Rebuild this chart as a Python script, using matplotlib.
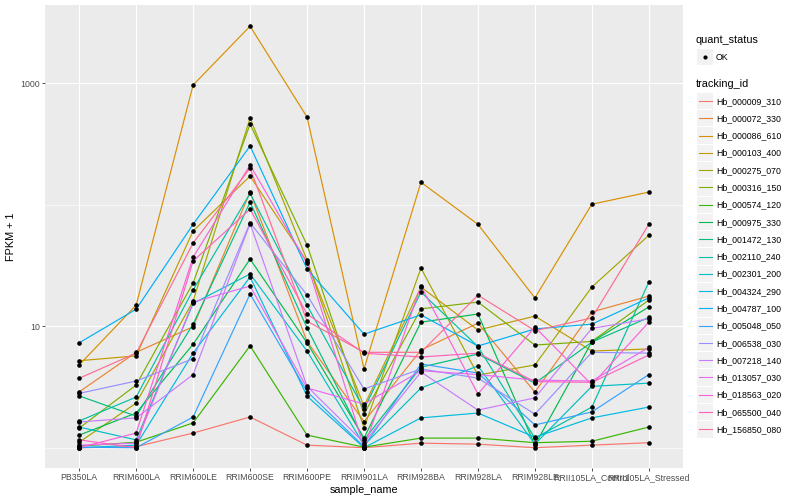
"""
FPKM + 1 per sample for 20 tracking ids (ggplot-like look)
"""

import matplotlib
matplotlib.use('Agg')
import matplotlib.pyplot as plt
from matplotlib.patches import Rectangle
from matplotlib.ticker import FixedLocator, NullFormatter, FixedFormatter

plt.rcParams['font.family'] = ['Liberation Sans', 'DejaVu Sans']

# Data
samples = ['PB350LA', 'RRIM600LA', 'RRIM600LE', 'RRIM600SE', 'RRIM600PE',
           'RRIM901LA', 'RRIM928BA', 'RRIM928LA', 'RRIM928LE',
           'RRII105LA_Control', 'RRII105LA_Stressed']

tracking_ids = ['Hb_000009_310', 'Hb_000072_330', 'Hb_000086_610', 'Hb_000103_400',
                'Hb_000275_070', 'Hb_000316_150', 'Hb_000574_120', 'Hb_000975_330',
                'Hb_001472_130', 'Hb_002110_240', 'Hb_002301_200', 'Hb_004324_290',
                'Hb_004787_100', 'Hb_005048_050', 'Hb_006538_030', 'Hb_007218_140',
                'Hb_013057_030', 'Hb_018563_020', 'Hb_065500_040', 'Hb_156850_080']

hb_000009_310 = [1.0, 1.02, 1.32, 1.79, 1.05, 1.0, 1.09, 1.07, 1.0, 1.05, 1.1]
hb_000072_330 = [2.88, 6.1, 9.9, 127, 7.5, 1.64, 6.37, 10.6, 2.87, 13.1, 17.7]
hb_000086_610 = [4.8, 14.9, 966, 2950, 527, 4.45, 153, 69, 17.1, 101, 127]
hb_000103_400 = [5.2, 5.7, 60.8, 172, 34, 2.2, 21, 9.3, 12.1, 6.25, 6.5]
hb_000275_070 = [1.11, 2.33, 16.1, 517, 35, 1.46, 30.1, 3.96, 4.8, 21, 56]
hb_000316_150 = [1.45, 3.28, 22.7, 461, 46.6, 1.89, 13.9, 15.8, 7.0, 7.5, 16.4]
hb_000574_120 = [1.03, 1.11, 1.6, 6.9, 1.27, 1.01, 1.2, 1.2, 1.1, 1.13, 1.48]
hb_000975_330 = [1.27, 1.93, 7.1, 35.7, 7.3, 1.2, 10.8, 12.6, 1.05, 7.45, 14.4]
hb_001472_130 = [2.67, 1.82, 10.4, 105, 9.7, 1.16, 4.6, 5.9, 3.4, 7.4, 11.8]
hb_002110_240 = [1.66, 2.61, 19.9, 124, 14.9, 2.08, 19.1, 6.8, 1.2, 2.16, 23.1]
hb_002301_200 = [1.48, 1.16, 15.4, 26.9, 6.25, 1.05, 3.1, 4.71, 1.07, 3.2, 3.4]
hb_004324_290 = [1.0, 1.05, 6.0, 25.4, 2.66, 1.0, 1.76, 1.93, 1.22, 1.76, 2.16]
hb_004787_100 = [7.3, 13.8, 69, 304, 29.6, 8.6, 12.4, 6.87, 9.5, 10.4, 17.1]
hb_005048_050 = [1.01, 1.0, 1.79, 18.4, 2.9, 1.02, 4.89, 4.12, 1.54, 1.97, 4.0]
hb_006538_030 = [2.8, 3.54, 5.4, 71, 18.1, 3.04, 4.45, 3.74, 1.89, 6.1, 6.0]
hb_007218_140 = [1.63, 1.76, 4.0, 70, 3.2, 1.1, 4.2, 2.04, 2.57, 9.6, 11.5]
hb_013057_030 = [1.05, 1.09, 15.8, 21.4, 3.1, 2.29, 4.3, 4.0, 3.6, 3.54, 6.7]
hb_018563_020 = [1.0, 1.32, 37, 212, 33, 1.0, 21.4, 2.77, 9.85, 3.3, 10.8]
hb_065500_040 = [1.16, 1.0, 34.4, 92, 12.6, 6.0, 5.58, 6.0, 3.5, 3.45, 5.8]
hb_156850_080 = [3.73, 6.0, 48.4, 200, 11, 6.1, 6.1, 18, 9.2, 11.7, 69]

series = [hb_000009_310, hb_000072_330, hb_000086_610, hb_000103_400,
          hb_000275_070, hb_000316_150, hb_000574_120, hb_000975_330,
          hb_001472_130, hb_002110_240, hb_002301_200, hb_004324_290,
          hb_004787_100, hb_005048_050, hb_006538_030, hb_007218_140,
          hb_013057_030, hb_018563_020, hb_065500_040, hb_156850_080]

# ggplot2 hue palette, 20 levels
colors = ['#F8766D', '#EA8331', '#D89000', '#C09B00', '#A3A500', '#7CAE00',
          '#39B600', '#00BB4E', '#00BF7D', '#00C1A3', '#00BFC4', '#00BAE0',
          '#00B0F6', '#35A2FF', '#9590FF', '#C77CFF', '#E76BF3', '#FA62DB',
          '#FF62BC', '#FF6C91']

fig = plt.figure(figsize=(8, 5), dpi=100)
ax = fig.add_axes([45 / 800, 32 / 500, 638 / 800, 463 / 500])
ax.set_facecolor('#EBEBEB')
for s in ax.spines.values():
    s.set_visible(False)

x = list(range(len(samples)))
for vals, c in zip(series, colors):
    ax.plot(x, vals, color=c, linewidth=0.85, zorder=3)
for vals in series:
    ax.plot(x, vals, linestyle='none', marker='o', markersize=2.3,
            color='black', zorder=4)

ax.set_yscale('log')
ax.set_ylim(10 ** -0.167, 10 ** 3.644)
ax.set_xlim(-0.6, len(samples) - 0.4)

ax.yaxis.set_major_locator(FixedLocator([10, 1000]))
ax.yaxis.set_major_formatter(FixedFormatter(['10', '1000']))
ax.yaxis.set_minor_locator(FixedLocator([1, 100]))
ax.yaxis.set_minor_formatter(NullFormatter())
ax.set_xticks(x)
ax.set_xticklabels(samples)

ax.grid(True, which='major', color='white', linewidth=0.85, zorder=0)
ax.grid(True, which='minor', axis='y', color='white', linewidth=0.45, zorder=0)
ax.set_axisbelow(True)

ax.tick_params(axis='both', which='major', length=2.0, width=0.6, color='#333333',
               labelsize=6.3, labelcolor='#4D4D4D', pad=1.5)
ax.tick_params(axis='y', which='minor', length=0)

ax.set_xlabel('sample_name', fontsize=7.8, labelpad=2)
ax.set_ylabel('FPKM + 1', fontsize=7.8, labelpad=3)

# Legend drawn in pixel coordinates
lax = fig.add_axes([0, 0, 1, 1], facecolor='none')
lax.set_xlim(0, 800)
lax.set_ylim(500, 0)
lax.axis('off')

lax.text(696, 40, 'quant_status', fontsize=7.8, va='center', ha='left')
lax.add_patch(Rectangle((697, 49), 16, 16.3, facecolor='#F2F2F2', edgecolor='none'))
lax.plot([705], [57.2], marker='o', markersize=2.0, color='black')
lax.text(716, 57.5, 'OK', fontsize=6.3, va='center', ha='left')

lax.text(696, 84, 'tracking_id', fontsize=7.8, va='center', ha='left')
for i, (tid, c) in enumerate(zip(tracking_ids, colors)):
    yc = 101 + 17.28 * i
    lax.add_patch(Rectangle((697, yc - 8.1), 16, 16.3, facecolor='#F2F2F2',
                            edgecolor='none'))
    lax.plot([698.5, 711.5], [yc, yc], color=c, linewidth=0.8)
    lax.text(716, yc + 0.3, tid, fontsize=6.3, va='center', ha='left')

plt.savefig('out.png', dpi=100)
plt.close()
